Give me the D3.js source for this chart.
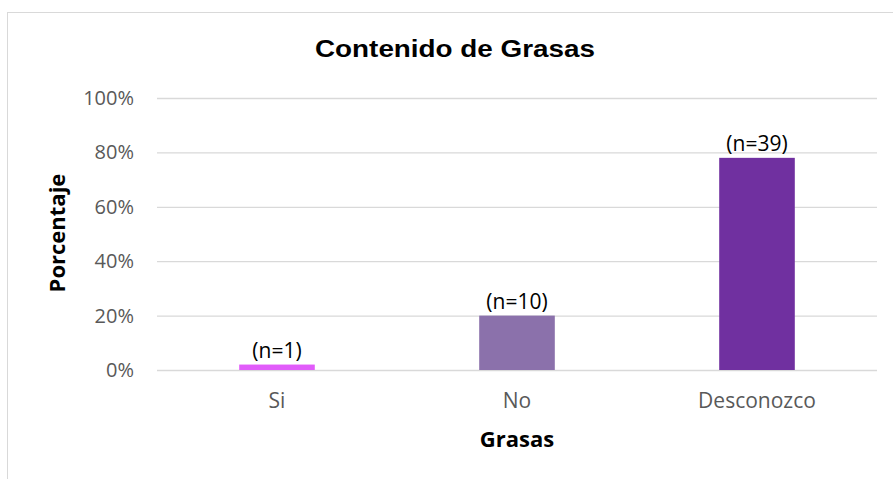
<!DOCTYPE html>
<html>
<head>
<meta charset="utf-8">
<script src="https://cdn.jsdelivr.net/npm/d3@7"></script>
<style>
  html, body { margin: 0; padding: 0; background: #fff; }
  svg { display: block; }
</style>
</head>
<body>
<div id="chart"></div>
<script>
const categories = ['Si', 'No', 'Desconozco'];
const values = [0.02, 0.20, 0.78];
const counts = ['(n=1)', '(n=10)', '(n=39)'];
const colors = ['#e15cfa', '#8b71ab', '#7030a0'];
const yTicks = [0, 0.2, 0.4, 0.6, 0.8, 1];

const width = 893;
const height = 479;
const plot = { left: 157, right: 877, top: 98, bottom: 370 };
const font = '"Open Sans", "Noto Sans", sans-serif';

const svg = d3.select('#chart').append('svg')
  .attr('width', width)
  .attr('height', height);

// chart frame
svg.append('rect')
  .attr('x', 7.5).attr('y', 12.5)
  .attr('width', 900).attr('height', 500)
  .attr('fill', 'none')
  .attr('stroke', '#d9d9d9');

const x = d3.scaleBand()
  .domain(categories)
  .range([plot.left, plot.right])
  .paddingInner(0.685)
  .paddingOuter(0.3425);

const y = d3.scaleLinear()
  .domain([0, 1])
  .range([plot.bottom, plot.top]);

// gridlines + tick labels
const yAxis = d3.axisLeft(y)
  .tickValues(yTicks)
  .tickFormat(d3.format('.0%'))
  .tickSize(-(plot.right - plot.left))
  .tickPadding(23);

const yg = svg.append('g')
  .attr('transform', `translate(${plot.left},0)`)
  .call(yAxis);
yg.select('.domain').remove();
yg.selectAll('.tick line').attr('stroke', '#d9d9d9').attr('stroke-width', 1.3);
yg.selectAll('.tick text')
  .attr('fill', '#595959')
  .style('font-family', font)
  .style('font-size', '20px');

// bars
svg.append('g').selectAll('rect')
  .data(categories)
  .join('rect')
  .attr('x', (d) => x(d))
  .attr('y', (d, i) => y(values[i]))
  .attr('width', x.bandwidth())
  .attr('height', (d, i) => y(0) - y(values[i]))
  .attr('fill', (d, i) => colors[i]);

// n labels
svg.append('g').selectAll('text')
  .data(categories)
  .join('text')
  .attr('x', (d) => x(d) + x.bandwidth() / 2)
  .attr('y', (d, i) => y(values[i]) - 7)
  .attr('text-anchor', 'middle')
  .attr('fill', '#000')
  .style('font-family', font)
  .style('font-size', '21px')
  .text((d, i) => counts[i]);

// x axis labels
const xAxis = d3.axisBottom(x).tickSize(0).tickPadding(23);
const xg = svg.append('g')
  .attr('transform', `translate(0,${plot.bottom})`)
  .call(xAxis);
xg.select('.domain').remove();
xg.selectAll('.tick text')
  .attr('fill', '#595959')
  .style('font-family', font)
  .style('font-size', '21px');

// title
svg.append('text')
  .attr('x', 455)
  .attr('y', 57)
  .attr('text-anchor', 'middle')
  .attr('textLength', 280)
  .attr('lengthAdjust', 'spacingAndGlyphs')
  .style('font-family', '"Liberation Sans", Arial, sans-serif')
  .style('font-weight', 'bold')
  .style('font-size', '24px')
  .text('Contenido de Grasas');

// axis titles
svg.append('text')
  .attr('x', (plot.left + plot.right) / 2)
  .attr('y', 447)
  .attr('text-anchor', 'middle')
  .style('font-family', font)
  .style('font-weight', 'bold')
  .style('font-size', '22px')
  .text('Grasas');

svg.append('text')
  .attr('transform', 'translate(65,233) rotate(-90)')
  .attr('text-anchor', 'middle')
  .style('font-family', font)
  .style('font-weight', 'bold')
  .style('font-size', '22px')
  .text('Porcentaje');
</script>
</body>
</html>
